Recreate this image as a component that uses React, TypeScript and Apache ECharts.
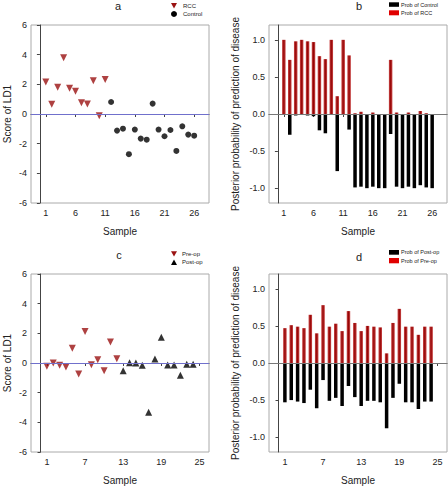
import React, { useEffect, useRef } from "react";
import * as echarts from "echarts";

// Panel a: LD1 scores (RCC vs Control)
const rccSamplesA = [1, 2, 3, 4, 5, 6, 7, 8, 9, 10, 11];
const rccScoresA = [2.15, 0.65, 1.8, 3.79, 1.73, 1.53, 0.76, 0.67, 2.24, -0.11, 2.33];
const controlSamplesA = [12, 13, 14, 15, 16, 17, 18, 19, 20, 21, 22, 23, 24, 25, 26];
const controlScoresA = [0.81, -1.12, -0.99, -2.71, -1.05, -1.66, -1.73, 0.7, -1.05, -1.5, -1.08, -2.49, -0.83, -1.39, -1.46];

// Panel b: posterior probabilities (26 samples)
const samplesB = [1, 2, 3, 4, 5, 6, 7, 8, 9, 10, 11, 12, 13, 14, 15, 16, 17, 18, 19, 20, 21, 22, 23, 24, 25, 26];
const probRCC = [1.0, 0.73, 0.98, 1.0, 0.98, 0.97, 0.78, 0.74, 1.0, 0.24, 1.0, 0.79, 0.01, 0.03, 0.0, 0.02, 0.0, 0.0, 0.73, 0.02, 0.0, 0.02, 0.0, 0.04, 0.01, 0.0];
const probControl = [0.0, -0.28, -0.02, 0.0, -0.02, -0.03, -0.22, -0.26, 0.0, -0.77, 0.0, -0.21, -0.99, -0.98, -1.0, -0.98, -1.0, -1.0, -0.27, -0.98, -1.0, -0.98, -1.0, -0.96, -0.99, -1.0];

// Panel c: LD1 scores (Pre-op vs Post-op)
const preSamplesC = [1, 2, 3, 4, 5, 6, 7, 8, 9, 10, 11, 12];
const preScoresC = [-0.22, 0.0, -0.16, -0.27, 0.99, -0.74, 2.13, -0.11, 0.22, -0.52, 1.41, 0.29];
const postSamplesC = [13, 14, 15, 16, 17, 18, 19, 20, 21, 22, 23, 24];
const postScoresC = [-0.52, 0.02, 0.0, -0.16, -3.32, 0.27, 1.73, -0.13, -0.13, -0.83, -0.09, -0.09];

// Panel d: posterior probabilities (24 samples)
const samplesD = [1, 2, 3, 4, 5, 6, 7, 8, 9, 10, 11, 12, 13, 14, 15, 16, 17, 18, 19, 20, 21, 22, 23, 24];
const probPreOp = [0.47, 0.51, 0.49, 0.47, 0.65, 0.4, 0.78, 0.49, 0.53, 0.43, 0.7, 0.54, 0.43, 0.5, 0.49, 0.48, 0.13, 0.54, 0.73, 0.49, 0.49, 0.38, 0.49, 0.49];
const probPostOp = [-0.53, -0.5, -0.52, -0.54, -0.36, -0.61, -0.23, -0.51, -0.47, -0.58, -0.31, -0.46, -0.58, -0.51, -0.51, -0.53, -0.88, -0.47, -0.28, -0.53, -0.53, -0.62, -0.52, -0.52];

const ticksAB = [1, 6, 11, 16, 21, 26];
const ticksCD = [1, 7, 13, 19, 25];
const probTicks = [-1, -0.5, 0, 0.5, 1];

const FONT = "Liberation Sans, Arial, sans-serif";
const DARKRED = "#9a1212";
const AXIS_COLOR = "#444";

const zip = (xs: number[], ys: number[]) => xs.map((x, i) => [x, ys[i]]);

const redGrad = new echarts.graphic.LinearGradient(0, 0, 1, 0, [
  { offset: 0, color: "#cc4a4a" },
  { offset: 0.5, color: "#950505" },
  { offset: 1, color: "#cc4a4a" },
]);

function xAxisCfg(gridIndex: number, max: number, ticks: number[]) {
  return {
    type: "value",
    gridIndex,
    min: -1.5,
    max,
    name: "Sample",
    nameLocation: "middle",
    nameGap: 23,
    nameTextStyle: { fontFamily: FONT, fontSize: 10, color: "#222" },
    axisLine: { show: true, lineStyle: { color: AXIS_COLOR, width: 1 } },
    axisTick: { show: true, length: 3, inside: false, customValues: ticks, lineStyle: { color: AXIS_COLOR } },
    axisLabel: { customValues: ticks, fontFamily: FONT, fontSize: 9, color: "#222", margin: 5 },
    splitLine: { show: false },
  };
}

function yScoreCfg(gridIndex: number) {
  return {
    type: "value",
    gridIndex,
    min: -6,
    max: 6,
    interval: 2,
    name: "Score of LD1",
    nameLocation: "middle",
    nameGap: 19,
    nameTextStyle: { fontFamily: FONT, fontSize: 10, color: "#222" },
    axisLine: { show: true, lineStyle: { color: AXIS_COLOR, width: 1 } },
    axisTick: { show: true, length: 3, lineStyle: { color: AXIS_COLOR } },
    axisLabel: { fontFamily: FONT, fontSize: 9, color: "#222", margin: 4 },
    splitLine: { show: false },
  };
}

function yProbCfg(gridIndex: number) {
  return {
    type: "value",
    gridIndex,
    min: -1.2,
    max: 1.2,
    name: "Posterior probability of prediction of disease",
    nameLocation: "middle",
    nameGap: 29,
    nameTextStyle: { fontFamily: FONT, fontSize: 10, color: "#222" },
    axisLine: { show: true, lineStyle: { color: AXIS_COLOR, width: 1 } },
    axisTick: { show: true, length: 3, customValues: probTicks, lineStyle: { color: AXIS_COLOR } },
    axisLabel: {
      customValues: probTicks,
      fontFamily: FONT,
      fontSize: 9,
      color: "#222",
      margin: 4,
      formatter: (v: number) => v.toFixed(1),
    },
    splitLine: { show: false },
  };
}

function zeroLine(color: string) {
  return {
    silent: true,
    symbol: "none",
    label: { show: false },
    lineStyle: { color, width: 1, type: "solid" },
    data: [{ yAxis: 0 }],
  };
}

export default function App() {
  const ref = useRef<HTMLDivElement>(null);

  useEffect(() => {
    document.body.style.margin = "0";
    if (!ref.current) return;
    const chart = echarts.init(ref.current, undefined, { renderer: "svg" });

    const gridBase = { show: true, borderColor: "#aaa", borderWidth: 1, backgroundColor: "transparent" };

    const txt = (x: number, y: number, text: string, size: number, align = "left") => ({
      type: "text",
      x,
      y,
      style: { text, fontFamily: FONT, fontSize: size, fill: "#222", align, verticalAlign: "middle" },
    });

    const option: any = {
      animation: false,
      backgroundColor: "#fff",
      grid: [
        { ...gridBase, left: 31, top: 25, width: 178, height: 178 },
        { ...gridBase, left: 269, top: 25, width: 178, height: 178 },
        { ...gridBase, left: 31, top: 274, width: 178, height: 178 },
        { ...gridBase, left: 269, top: 274, width: 178, height: 178 },
      ],
      xAxis: [
        xAxisCfg(0, 28.5, ticksAB),
        xAxisCfg(1, 28.5, ticksAB),
        xAxisCfg(2, 26.5, ticksCD),
        xAxisCfg(3, 26.5, ticksCD),
      ],
      yAxis: [yScoreCfg(0), yProbCfg(1), yScoreCfg(2), yProbCfg(3)],
      series: [
        {
          name: "RCC",
          type: "scatter",
          xAxisIndex: 0,
          yAxisIndex: 0,
          symbol: "triangle",
          symbolRotate: 180,
          symbolSize: 7,
          itemStyle: { color: DARKRED },
          data: zip(rccSamplesA, rccScoresA),
          markLine: zeroLine("#7070cc"),
          z: 3,
        },
        {
          name: "Control",
          type: "scatter",
          xAxisIndex: 0,
          yAxisIndex: 0,
          symbol: "circle",
          symbolSize: 6,
          itemStyle: { color: "#000" },
          data: zip(controlSamplesA, controlScoresA),
          z: 3,
        },
        {
          name: "Prob of RCC",
          type: "bar",
          xAxisIndex: 1,
          yAxisIndex: 1,
          barWidth: 3.5,
          barGap: "-100%",
          itemStyle: { color: redGrad },
          data: zip(samplesB, probRCC),
          markLine: zeroLine("#777"),
        },
        {
          name: "Prob of Control",
          type: "bar",
          xAxisIndex: 1,
          yAxisIndex: 1,
          barWidth: 3.5,
          barGap: "-100%",
          itemStyle: { color: "#000" },
          data: zip(samplesB, probControl),
        },
        {
          name: "Pre-op",
          type: "scatter",
          xAxisIndex: 2,
          yAxisIndex: 2,
          symbol: "triangle",
          symbolRotate: 180,
          symbolSize: 7,
          itemStyle: { color: DARKRED },
          data: zip(preSamplesC, preScoresC),
          markLine: zeroLine("#7070cc"),
          z: 3,
        },
        {
          name: "Post-op",
          type: "scatter",
          xAxisIndex: 2,
          yAxisIndex: 2,
          symbol: "triangle",
          symbolSize: 7,
          itemStyle: { color: "#000" },
          data: zip(postSamplesC, postScoresC),
          z: 3,
        },
        {
          name: "Prob of Pre-op",
          type: "bar",
          xAxisIndex: 3,
          yAxisIndex: 3,
          barWidth: 3.5,
          barGap: "-100%",
          itemStyle: { color: redGrad },
          data: zip(samplesD, probPreOp),
          markLine: zeroLine("#777"),
        },
        {
          name: "Prob of Post-op",
          type: "bar",
          xAxisIndex: 3,
          yAxisIndex: 3,
          barWidth: 3.5,
          barGap: "-100%",
          itemStyle: { color: "#000" },
          data: zip(samplesD, probPostOp),
        },
      ],
      graphic: [
        // panel titles
        txt(118, 6, "a", 11, "center"),
        txt(359, 6, "b", 11, "center"),
        txt(119, 255, "c", 11, "center"),
        txt(359, 257, "d", 11, "center"),
        // legend a
        { type: "polygon", shape: { points: [[171, 3], [177, 3], [174, 8.5]] }, style: { fill: DARKRED } },
        { type: "circle", shape: { cx: 174, cy: 14, r: 3 }, style: { fill: "#000" } },
        txt(183, 5.5, "RCC", 6),
        txt(183, 14, "Control", 6),
        // legend b
        { type: "rect", shape: { x: 389, y: 2.3, width: 10, height: 4.5 }, style: { fill: "#000" } },
        { type: "rect", shape: { x: 389, y: 10.3, width: 10, height: 5 }, style: { fill: "#e00000" } },
        txt(401, 4.6, "Prob of Control", 5.5),
        txt(401, 12.8, "Prob of RCC", 5.5),
        // legend c
        { type: "polygon", shape: { points: [[171, 251.3], [177, 251.3], [174, 256.5]] }, style: { fill: DARKRED } },
        { type: "polygon", shape: { points: [[171, 265], [177, 265], [174, 259.5]] }, style: { fill: "#000" } },
        txt(182, 253.7, "Pre-op", 6),
        txt(182, 262.3, "Post-op", 6),
        // legend d
        { type: "rect", shape: { x: 389, y: 250, width: 10, height: 4.7 }, style: { fill: "#000" } },
        { type: "rect", shape: { x: 389, y: 258, width: 10, height: 5.3 }, style: { fill: "#e00000" } },
        txt(401, 252.3, "Prob of Post-op", 5.5),
        txt(401, 260.7, "Prob of Pre-op", 5.5),
      ],
    };

    chart.setOption(option);
    return () => chart.dispose();
  }, []);

  return <div ref={ref} style={{ width: 448, height: 487 }} />;
}
